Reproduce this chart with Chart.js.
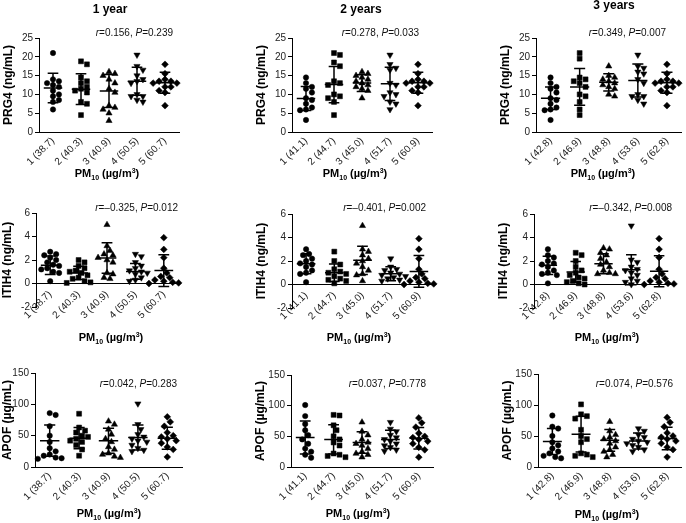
<!DOCTYPE html>
<html>
<head>
<meta charset="utf-8">
<script src="https://cdn.jsdelivr.net/npm/chart.js@4.4.1/dist/chart.umd.min.js"></script>
<style>
  body { margin: 0; background: #fff; }
  #wrap { position: relative; width: 686px; height: 523px; }
  #wrap canvas { position: absolute; left: 0; top: 0; }
</style>
</head>
<body>
<div id="wrap"></div>
<script>
// column headings and category labels (PM10 quintiles)
const years = ["1 year", "2 years", "3 years"];
const pm_1y = ["1 (38.7)", "2 (40.3)", "3 (40.9)", "4 (50.5)", "5 (60.7)"];
const pm_2y = ["1 (41.1)", "2 (44.7)", "3 (45.0)", "4 (51.7)", "5 (60.9)"];
const pm_3y = ["1 (42.8)", "2 (46.9)", "3 (48.8)", "4 (53.6)", "5 (62.8)"];

// r / P values
const stats_prg4 = [["0.156", "0.239"], ["0.278", "0.033"], ["0.349", "0.007"]];
const stats_itih4 = [["\u20130.325", "0.012"], ["\u20130.401", "0.002"], ["\u20130.342", "0.008"]];
const stats_apof = [["0.042", "0.283"], ["0.037", "0.778"], ["0.074", "0.576"]];

// PRG4 (ng/mL)
const prg4_1y = [
  [21, 14, 13.5, 13, 12.5, 12, 11, 10, 9.5, 8.5, 8, 6],
  [18.8, 18, 14.5, 13.5, 13, 12, 11.5, 11, 10.5, 8, 7.5, 4.5],
  [16, 15.5, 15, 14, 13, 11.5, 10.5, 7, 6.5, 6, 5, 3],
  [20.5, 17.5, 16.5, 15, 14, 13.5, 13, 10, 9.5, 9.5, 8.5, 8],
  [18, 15.5, 14, 13.5, 13.5, 13, 13, 12, 12, 11, 10.5, 7]
];
const prg4_1y_mean = [11.7, 11.4, 10.9, 13.5, 13.1];
const prg4_1y_sd = [3.95, 4.1, 4.4, 3.75, 2.8];

const prg4_2y = [
  [14.5, 13, 12, 11.5, 10.5, 9, 8.5, 7.5, 6.5, 6, 5.8, 3.2],
  [21, 20.5, 18.5, 17.5, 13.5, 13, 12.5, 10, 9.5, 9, 8, 4.5],
  [16, 15.5, 15, 14.5, 14, 13.5, 13, 12.5, 12, 11.5, 11, 9],
  [20.5, 18, 17, 16.5, 13, 12.5, 10.5, 10, 9.5, 8, 7.5, 6],
  [18, 15.5, 14, 13.5, 13.5, 13, 13, 12, 12, 11, 10.5, 7]
];
const prg4_2y_mean = [8.9, 12.6, 13.0, 12.8, 13.1];
const prg4_2y_sd = [3.2, 4.8, 2.25, 4.4, 2.8];

const prg4_3y = [
  [14.5, 13, 12, 11.5, 10.5, 9, 8.5, 7.5, 6.5, 6, 5.8, 3.2],
  [21, 19.5, 14.5, 14, 13.5, 13, 12, 10, 9.5, 8, 6, 4.5],
  [17.5, 15, 14.5, 14, 13.5, 13, 12.5, 12, 11.5, 10, 9.5],
  [20.5, 17.5, 17, 16, 15.5, 14, 13, 10, 9.5, 9.5, 8.5, 7.5],
  [18, 15.5, 14, 13.5, 13.5, 13, 13, 12, 12, 11, 10.5, 7]
];
const prg4_3y_mean = [9.0, 12.0, 13.2, 13.7, 13.1];
const prg4_3y_sd = [3.0, 4.9, 2.3, 4.4, 2.8];

// ITIH4 (ng/mL)
const itih4_1y = [
  [2.7, 2.5, 2.4, 2.2, 2.0, 1.8, 1.6, 1.5, 1.3, 1.2, 1.0, 0.9, 0.2],
  [2.0, 1.8, 1.5, 1.3, 1.1, 1.0, 0.9, 0.7, 0.5, 0.4, 0.2, 0.1, 0.05],
  [5.0, 3.2, 2.8, 2.5, 2.4, 2.2, 2.0, 1.8, 0.9, 0.8, 0.5, 0.4],
  [2.5, 2.3, 1.8, 1.5, 1.3, 1.1, 1.0, 0.9, 0.8, 0.5, 0.3, 0.2],
  [3.9, 2.9, 2.2, 1.3, 0.9, 0.6, 0.5, 0.3, 0.2, 0.1, 0.05, 0]
];
const itih4_1y_mean = [1.55, 0.9, 2.17, 1.03, 1.1];
const itih4_1y_sd = [0.78, 0.56, 1.3, 0.67, 1.35];

const itih4_2y = [
  [3.0, 2.6, 2.5, 2.2, 2.0, 1.8, 1.7, 1.5, 1.2, 1.0, 0.9, 0.2],
  [2.8, 2.0, 1.7, 1.3, 1.1, 1.0, 0.9, 0.7, 0.5, 0.4, 0.3, 0.1],
  [5.0, 3.0, 2.8, 2.5, 2.2, 2.0, 1.8, 1.5, 1.2, 0.9, 0.8, 0.3],
  [2.2, 1.5, 1.3, 1.2, 1.0, 0.9, 0.8, 0.7, 0.6, 0.5, 0.4, 0.3],
  [3.9, 3.0, 2.2, 1.3, 0.9, 0.6, 0.5, 0.3, 0.2, 0.1, 0.05, 0]
];
const itih4_2y_mean = [1.77, 1.0, 2.06, 0.91, 1.11];
const itih4_2y_sd = [0.85, 0.75, 1.2, 0.6, 1.35];

const itih4_3y = [
  [3.0, 2.5, 2.3, 2.0, 1.8, 1.7, 1.5, 1.2, 1.0, 0.9, 0.8, 0.1],
  [2.7, 2.5, 2.0, 1.5, 1.2, 1.0, 0.8, 0.6, 0.5, 0.3, 0.2, 0.1, 0],
  [3.1, 3.0, 2.7, 2.5, 2.2, 1.9, 1.7, 1.5, 1.2, 1.0, 0.9, 0.9],
  [5.0, 2.1, 1.9, 1.5, 1.3, 1.2, 1.0, 0.8, 0.5, 0.3, 0.2, 0],
  [3.9, 3.0, 2.3, 1.3, 0.9, 0.6, 0.5, 0.3, 0.2, 0.1, 0.05, 0]
];
const itih4_3y_mean = [1.63, 1.06, 1.77, 1.26, 1.12];
const itih4_3y_sd = [0.77, 0.9, 0.85, 1.28, 1.32];

// APOF (µg/mL)
const apof_1y = [
  [86, 83, 65, 50, 40, 30, 25, 20, 18, 15, 14, 13],
  [85, 63, 58, 55, 50, 48, 45, 42, 40, 35, 28, 18],
  [73, 68, 60, 52, 45, 40, 32, 28, 22, 20, 17, 15],
  [101, 68, 60, 52, 48, 45, 42, 40, 35, 30, 27, 25],
  [80, 72, 65, 55, 50, 48, 45, 42, 38, 32, 28, 16]
];
const apof_1y_mean = [42, 46, 42, 47, 46];
const apof_1y_sd = [25, 17, 20, 20, 17.5];

const apof_2y = [
  [101, 83, 70, 60, 52, 45, 38, 30, 25, 20, 15],
  [85, 84, 68, 60, 50, 45, 40, 35, 22, 20, 18, 16],
  [73, 58, 52, 45, 40, 38, 35, 30, 25, 22, 20, 16],
  [73, 62, 58, 52, 48, 45, 42, 38, 35, 32, 28, 26],
  [80, 72, 65, 55, 50, 48, 45, 42, 38, 32, 28, 16]
];
const apof_2y_mean = [48, 45, 40, 45, 47];
const apof_2y_sd = [27, 24, 17.5, 15, 17.5];

const apof_3y = [
  [83, 65, 62, 50, 40, 35, 30, 25, 22, 18, 16, 14],
  [101, 85, 82, 78, 60, 50, 45, 40, 22, 20, 18, 16],
  [73, 58, 52, 48, 45, 42, 38, 32, 28, 25, 20, 16],
  [62, 58, 52, 48, 45, 42, 40, 38, 35, 32, 28, 25],
  [80, 72, 65, 55, 50, 48, 45, 42, 38, 32, 28, 16]
];
const apof_3y_mean = [41, 53, 43, 42, 46];
const apof_3y_sd = [21, 29, 17.5, 13, 18];

const FONT = '"Liberation Sans", Arial, sans-serif';

// marker per quintile: circle, square, triangle, inverted triangle, diamond
const markers = [
  { style: "circle", r: 2.7, rot: 0 },
  { style: "rect", r: 3.5, rot: 0 },
  { style: "triangle", r: 3.6, rot: 0 },
  { style: "triangle", r: 3.6, rot: 180 },
  { style: "rectRot", r: 3.4, rot: 0 }
];

// layout of the 3x3 grid (page pixels): plot area, text anchors
const rowsY = [
  { ytitle: "PRG4 (ng/mL)", ymin: 0, ymax: 25, step: 5, statY: 32, lblPad: 3 },
  { ytitle: "ITIH4 (ng/mL)", ymin: -2, ymax: 6, step: 2, statY: 207, lblPad: 5 },
  { ytitle: "APOF (\u00b5g/mL)", ymin: 0, ymax: 150, step: 50, statY: 383, lblPad: 3 }
];

const panels = [
  { row: 0, col: 0, vals: prg4_1y, mean: prg4_1y_mean, sd: prg4_1y_sd, labels: pm_1y, stat: stats_prg4[0], area: [39, 38, 179, 132], statX: 173, xt: [107, 173], head: [110, 10] },
  { row: 0, col: 1, vals: prg4_2y, mean: prg4_2y_mean, sd: prg4_2y_sd, labels: pm_2y, stat: stats_prg4[1], area: [292, 38, 432, 132], statX: 419, xt: [355, 173], head: [361, 10] },
  { row: 0, col: 2, vals: prg4_3y, mean: prg4_3y_mean, sd: prg4_3y_sd, labels: pm_3y, stat: stats_prg4[2], area: [536, 38, 682, 132], statX: 666, xt: [603, 173], head: [614, 6] },
  { row: 1, col: 0, vals: itih4_1y, mean: itih4_1y_mean, sd: itih4_1y_sd, labels: pm_1y, stat: stats_itih4[0], area: [36, 213, 178, 307], statX: 178, xt: [111, 337] },
  { row: 1, col: 1, vals: itih4_2y, mean: itih4_2y_mean, sd: itih4_2y_sd, labels: pm_2y, stat: stats_itih4[1], area: [292, 214, 433, 308], statX: 426, xt: [359, 337] },
  { row: 1, col: 2, vals: itih4_3y, mean: itih4_3y_mean, sd: itih4_3y_sd, labels: pm_3y, stat: stats_itih4[2], area: [534, 214, 673, 308], statX: 672, xt: [607, 337] },
  { row: 2, col: 0, vals: apof_1y, mean: apof_1y_mean, sd: apof_1y_sd, labels: pm_1y, stat: stats_apof[0], area: [35, 373, 182, 467], statX: 177, xt: [109, 513] },
  { row: 2, col: 1, vals: apof_2y, mean: apof_2y_mean, sd: apof_2y_sd, labels: pm_2y, stat: stats_apof[1], area: [291, 375, 433, 467], statX: 426, xt: [358, 513] },
  { row: 2, col: 2, vals: apof_3y, mean: apof_3y_mean, sd: apof_3y_sd, labels: pm_3y, stat: stats_apof[2], area: [538, 374, 684, 467], statX: 673, xt: [607, 514] }
];

// spread points sideways so markers with close values don't overlap (like a dot plot)
function spread(vals, ymin, ymax, hPx, unitPx) {
  const d = 5.4;
  const order = vals.map((v, i) => i).sort((a, b) => vals[b] - vals[a]);
  const placed = [];
  const off = new Array(vals.length).fill(0);
  for (const i of order) {
    const y = (vals[i] - ymin) / (ymax - ymin) * hPx;
    for (let k = 0; k < 30; k++) {
      const s = k === 0 ? 0 : (k % 2 ? 1 : -1) * Math.ceil(k / 2);
      const x = s * d * 0.55;
      const hit = placed.some(p => Math.hypot(p[0] - x, p[1] - y) < d);
      if (!hit) { placed.push([x, y]); off[i] = x / unitPx; break; }
    }
  }
  return off;
}

function drawParts(ctx, parts, x, y) {
  let cx = x;
  for (const [txt, font, dy] of parts) {
    ctx.font = font;
    ctx.fillText(txt, cx, y + dy);
    cx += ctx.measureText(txt).width;
  }
}
function partsWidth(ctx, parts) {
  let w = 0;
  for (const [txt, font] of parts) { ctx.font = font; w += ctx.measureText(txt).width; }
  return w;
}

function panelPlugin(p, rowInfo) {
  return {
    id: "panel",
    afterDatasetsDraw(chart) {
      const ctx = chart.ctx;
      const xs = chart.scales.x, ys = chart.scales.y;
      ctx.save();
      ctx.strokeStyle = "#000";
      ctx.lineWidth = 1.5;
      p.mean.forEach((m, g) => {
        const cx = xs.getPixelForValue(g + 1);
        const halfMean = xs.getPixelForValue(g + 1.33) - cx;
        const halfCap = xs.getPixelForValue(g + 1.19) - cx;
        const yM = ys.getPixelForValue(m);
        const yHi = ys.getPixelForValue(m + p.sd[g]);
        const yLo = ys.getPixelForValue(m - p.sd[g]);
        ctx.beginPath();
        ctx.moveTo(cx - halfMean, yM); ctx.lineTo(cx + halfMean, yM);
        ctx.moveTo(cx, yHi); ctx.lineTo(cx, yLo);
        ctx.moveTo(cx - halfCap, yHi); ctx.lineTo(cx + halfCap, yHi);
        ctx.moveTo(cx - halfCap, yLo); ctx.lineTo(cx + halfCap, yLo);
        ctx.stroke();
      });
      ctx.restore();
    },
    afterDraw(chart) {
      const ctx = chart.ctx;
      const a = chart.chartArea;
      ctx.save();
      ctx.fillStyle = "#000";
      // column heading
      if (p.head) {
        ctx.font = "bold 12px " + FONT;
        ctx.textAlign = "center";
        ctx.textBaseline = "middle";
        ctx.fillText(years[p.col], p.head[0], p.head[1]);
      }
      // y title
      ctx.save();
      ctx.translate(Math.max(a.left - 30, 8), (a.top + a.bottom) / 2);
      ctx.rotate(-Math.PI / 2);
      ctx.font = "bold 12px " + FONT;
      ctx.textAlign = "center";
      ctx.textBaseline = "middle";
      ctx.fillText(rowInfo.ytitle, 0, 0);
      ctx.restore();
      // x title: PM10 (µg/m3)
      ctx.textAlign = "left";
      ctx.textBaseline = "alphabetic";
      const big = "bold 11px " + FONT, small = "bold 7px " + FONT;
      const xParts = [["PM", big, 0], ["10", small, 3], [" (\u00b5g/m", big, 0], ["3", small, -4], [")", big, 0]];
      const wx = partsWidth(ctx, xParts);
      drawParts(ctx, xParts, p.xt[0] - wx / 2, p.xt[1] + 4);
      // r / P annotation
      const reg = "10px " + FONT, it = "italic 10px " + FONT;
      const sParts = [["r", it, 0], ["=" + p.stat[0] + ", ", reg, 0], ["P", it, 0], ["=" + p.stat[1], reg, 0]];
      const ws = partsWidth(ctx, sParts);
      ctx.fillStyle = "#111";
      drawParts(ctx, sParts, p.statX - ws, rowInfo.statY + 3.5);
      ctx.restore();
    }
  };
}

const wrap = document.getElementById("wrap");

panels.forEach(p => {
  const rowInfo = rowsY[p.row];
  const [L, T, R, B] = p.area;
  const unitPx = (R - L) / 5, hPx = B - T;
  const c = document.createElement("canvas");
  c.width = 686; c.height = 523;
  wrap.appendChild(c);

  const datasets = p.vals.map((vals, g) => {
    const off = spread(vals, rowInfo.ymin, rowInfo.ymax, hPx, unitPx);
    return {
      data: vals.map((v, i) => ({ x: g + 1 + off[i], y: v })),
      pointStyle: markers[g].style,
      pointRadius: markers[g].r,
      pointRotation: markers[g].rot,
      backgroundColor: "#000",
      borderColor: "#000",
      pointBorderWidth: 0.5,
      clip: false
    };
  });

  new Chart(c, {
    type: "scatter",
    data: { datasets },
    options: {
      responsive: false,
      animation: false,
      events: [],
      layout: { padding: { left: L - 30, top: T, right: 686 - R, bottom: 523 - B } },
      plugins: { legend: { display: false }, tooltip: { enabled: false }, title: { display: false } },
      scales: {
        x: {
          type: "linear",
          min: 0.5,
          max: 5.5,
          position: { y: 0 },
          afterBuildTicks: s => { s.ticks = [1, 2, 3, 4, 5].map(v => ({ value: v })); },
          afterFit: s => { s.height = 0; s.paddingLeft = 0; s.paddingRight = 0; },
          grid: { drawOnChartArea: false, drawTicks: false },
          border: { color: "#000", width: 1 },
          ticks: {
            autoSkip: false,
            minRotation: 45,
            maxRotation: 45,
            padding: rowInfo.lblPad,
            color: "#222",
            font: { family: FONT, size: 10 },
            callback: v => p.labels[v - 1]
          }
        },
        y: {
          type: "linear",
          min: rowInfo.ymin,
          max: rowInfo.ymax,
          afterFit: s => { s.width = 30; s.paddingTop = 0; s.paddingBottom = 0; },
          grid: { drawOnChartArea: false, drawTicks: true, tickLength: 4, color: "#000" },
          border: { color: "#000", width: 1 },
          ticks: { stepSize: rowInfo.step, padding: 2, color: "#222", font: { family: FONT, size: 10 } }
        }
      }
    },
    plugins: [panelPlugin(p, rowInfo)]
  });
});
</script>
</body>
</html>
